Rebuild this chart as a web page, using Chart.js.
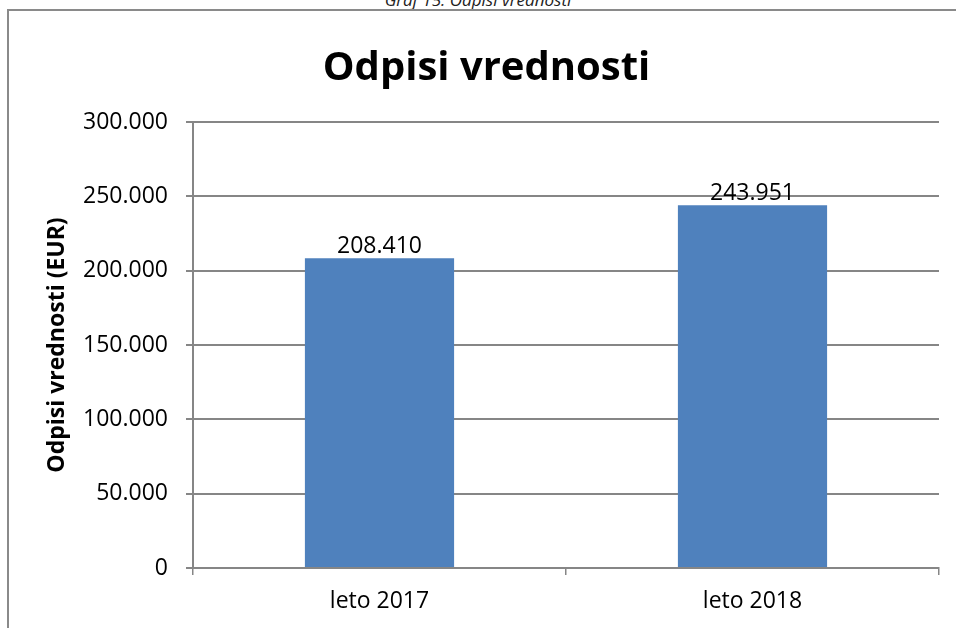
<!DOCTYPE html>
<html>
<head>
<meta charset="utf-8">
<script src="https://cdn.jsdelivr.net/npm/chart.js@4.4.1/dist/chart.umd.min.js"></script>
<style>
  html, body { margin:0; padding:0; background:#fff; }
  body { width:956px; height:628px; position:relative; overflow:hidden; }
  #caption { position:absolute; left:0; width:956px; top:-12px; text-align:center;
    font:italic 17px 'Open Sans', sans-serif; color:#222; }
  #frame { position:absolute; left:7px; top:9px; width:960px; height:640px;
    border-left:2px solid #8a8a8a; border-top:2px solid #8a8a8a; }
  #wrap { position:absolute; left:0; top:0; width:956px; height:628px; }
</style>
</head>
<body>
<div id="caption">Graf 15: Odpisi vrednosti</div>
<div id="frame"></div>
<div id="wrap"><canvas id="chart"></canvas></div>
<script>
/* ═══ data ═══ */
var CATEGORIES = ['leto 2017', 'leto 2018'];
var VALUES     = [208410, 243951];
var Y_TICKS    = [0, 50000, 100000, 150000, 200000, 250000, 300000];

var fmt = function(n) { return Number(n).toLocaleString('de-DE'); };
var FONT = "'Open Sans', sans-serif";

/* ── value labels above bars ── */
var valueLabels = {
  id: 'valueLabels',
  afterDatasetsDraw: function(chart) {
    var c = chart.ctx;
    c.save();
    c.font = '23px ' + FONT;
    c.fillStyle = '#000';
    c.textAlign = 'center';
    c.textBaseline = 'alphabetic';
    chart.getDatasetMeta(0).data.forEach(function(bar, i) {
      c.fillText(fmt(VALUES[i]), bar.x, bar.y - 5);
    });
    c.restore();
  }
};

new Chart(document.getElementById('chart'), {
  type: 'bar',
  data: {
    labels: CATEGORIES,
    datasets: [{ data: VALUES, backgroundColor: '#4f81bd', barPercentage: 0.4, categoryPercentage: 1 }]
  },
  plugins: [valueLabels],
  options: {
    responsive: true, maintainAspectRatio: false, animation: false,
    layout: { padding: { left: 34, right: 17, top: 0, bottom: 0 } },
    plugins: {
      legend: { display: false },
      tooltip: { enabled: false },
      title: { display: true, text: 'Odpisi vrednosti', color: '#000',
        font: { family: FONT, size: 40, weight: 'bold', lineHeight: 1.2 },
        padding: { top: 45, bottom: 29 } }
    },
    scales: {
      x: {
        grid: { drawOnChartArea: false, drawTicks: true, tickLength: 7, color: '#868686', lineWidth: 1.5 },
        border: { color: '#868686', width: 2 },
        ticks: { color: '#000', font: { family: FONT, size: 23 }, padding: 13 },
        afterFit: function(s) { s.height = 60; }
      },
      y: {
        min: 0, max: 300000,
        afterBuildTicks: function(s) { s.ticks = Y_TICKS.map(function(v) { return { value: v }; }); },
        grid: { color: '#868686', lineWidth: 2, tickLength: 7 },
        border: { color: '#868686', width: 2 },
        ticks: { color: '#000', font: { family: FONT, size: 23 }, padding: 18,
          callback: function(v) { return fmt(v); } },
        title: { display: true, text: 'Odpisi vrednosti (EUR)', color: '#000',
          font: { family: FONT, size: 23, weight: 'bold', lineHeight: 1.2 }, padding: { top: 10, bottom: 0 } },
        afterFit: function(s) { s.width = 159; }
      }
    }
  }
});
</script>
</body>
</html>
